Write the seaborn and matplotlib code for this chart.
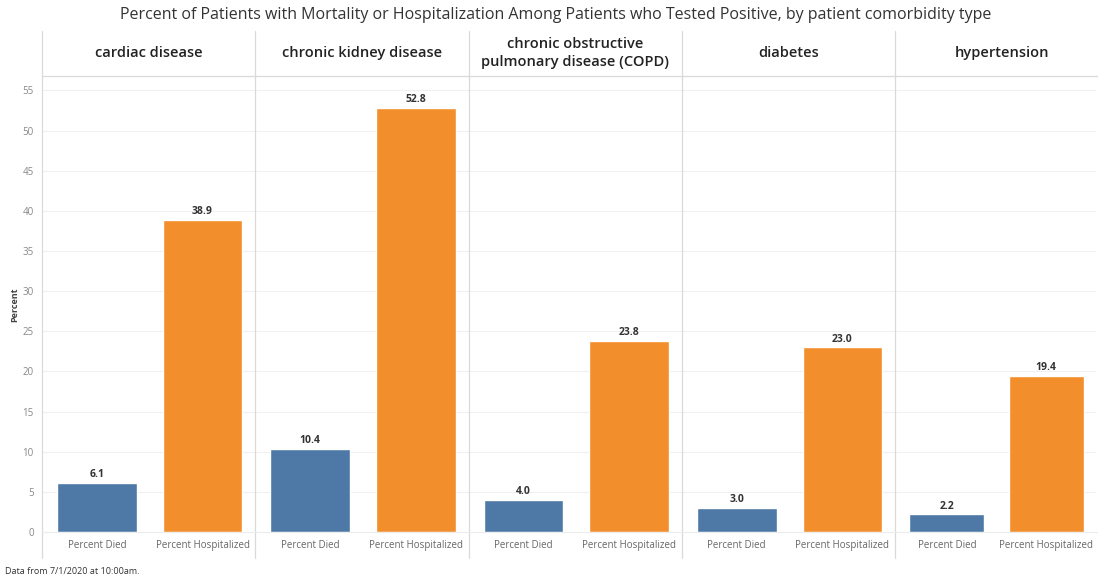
import matplotlib
matplotlib.use("Agg")
import matplotlib.pyplot as plt
import seaborn as sns
import pandas as pd
from matplotlib.lines import Line2D

# Datos
comorbilidades = ["cardiac disease", "chronic kidney disease",
                  "chronic obstructive\npulmonary disease (COPD)", "diabetes", "hypertension"]
medidas = ["Percent Died", "Percent Hospitalized"]
pct_died = [6.1, 10.4, 4.0, 3.0, 2.2]
pct_hosp = [38.9, 52.8, 23.8, 23.0, 19.4]
yticks = list(range(0, 56, 5))

colores = {"Percent Died": "#4e79a7", "Percent Hospitalized": "#f28e2b"}

sns.set_theme(style="white")
plt.rcParams["font.family"] = ["Open Sans", "DejaVu Sans"]

W, H = 1098, 579
fig = plt.figure(figsize=(W / 100, H / 100), dpi=100)

# bordes de los paneles en pixeles
x0, pw = 42, 213.3
y_top, y_bot = 76, 532
ymax = 56.8

for i, nombre in enumerate(comorbilidades):
    df = pd.DataFrame({"medida": medidas, "valor": [pct_died[i], pct_hosp[i]]})
    left = x0 + i * pw
    ancho = pw if i < 4 else W - left - 2  # el ultimo panel queda mas angosto
    ax = fig.add_axes([left / W, 1 - y_bot / H, ancho / W, (y_bot - y_top) / H])
    sns.barplot(data=df, x="medida", y="valor", hue="medida", palette=colores,
                width=0.755, legend=False, ax=ax, saturation=1)
    ax.set_xlim(-0.52, 1.5)
    ax.set_ylim(0, ymax)
    ax.set_yticks(yticks)
    ax.grid(axis="y", color="#f0f0f0", linewidth=0.8)
    ax.set_axisbelow(True)
    for s in ax.spines.values():
        s.set_visible(False)
    ax.set_xlabel("")
    ax.set_ylabel("")
    ax.tick_params(axis="x", length=0, labelsize=7, colors="#666666", pad=6)
    if i == 0:
        ax.tick_params(axis="y", length=0, labelsize=7, colors="#888888", pad=6)
    else:
        ax.tick_params(axis="y", length=0, labelleft=False)
    for c in ax.containers:
        ax.bar_label(c, fmt="%.1f", fontsize=7.5, fontweight="bold", color="#333333", padding=2)
    # encabezado de la columna
    fig.text((left + pw / 2) / W, 1 - 53 / H, nombre, ha="center", va="center",
             fontsize=10.5, fontweight="semibold", color="#222222", linespacing=1.4)

# etiqueta del eje Y
fig.text(15 / W, 1 - 305 / H, "Percent", rotation=90, ha="center", va="center",
         fontsize=6.5, fontweight="bold", color="#444444")

# lineas separadoras
for i in range(5):
    xl = (x0 + i * pw) / W
    fig.add_artist(Line2D([xl, xl], [1 - 31 / H, 1 - 558 / H], color="#d9d9d9", linewidth=0.9))
fig.add_artist(Line2D([x0 / W, 1], [1 - y_top / H, 1 - y_top / H], color="#d9d9d9", linewidth=0.9))
fig.add_artist(Line2D([x0 / W, 1], [1 - y_bot / H, 1 - y_bot / H], color="#ececec", linewidth=0.8))

fig.text(556 / W, 1 - 15 / H,
         "Percent of Patients with Mortality or Hospitalization Among Patients who Tested Positive, by patient comorbidity type",
         ha="center", va="center", fontsize=11.5, color="#333333")
fig.text(5 / W, 1 - 571 / H, "Data from 7/1/2020 at 10:00am.", ha="left", va="center",
         fontsize=6.5, color="#333333")

fig.savefig("out.png", dpi=100)
